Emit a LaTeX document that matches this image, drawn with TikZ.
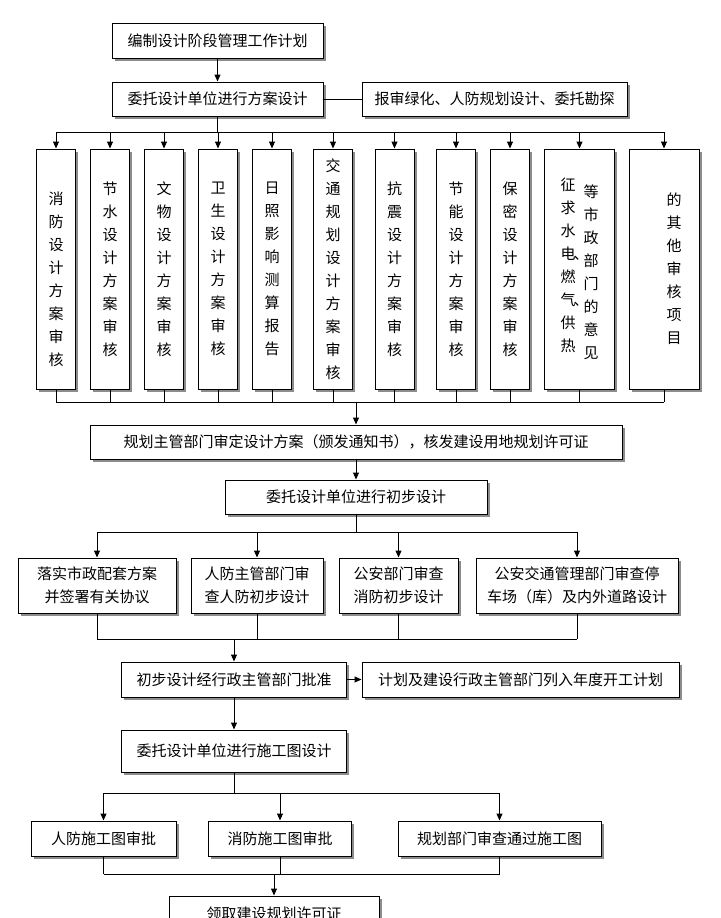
\documentclass[tikz,border=0pt]{standalone}
\usepackage{fontspec}
\newfontfamily\zhfont{Noto Sans CJK SC}
\usetikzlibrary{arrows.meta,shadows}

\begin{document}
\begin{tikzpicture}[
  x=1pt, y=-1pt,
  every node/.style={font=\zhfont\fontsize{15}{23}\selectfont, align=center, inner sep=0pt},
  box/.style={draw, line width=1pt, fill=white,
    drop shadow={shadow xshift=2.5pt, shadow yshift=-2.5pt, fill=black!45, opacity=1}},
  vbox/.style={box, minimum width=39pt, minimum height=240pt},
  wbox/.style={box, minimum width=70pt, minimum height=240pt},
  arrow/.style={-{Triangle[length=7pt, width=6pt]}, line width=1pt},
  link/.style={line width=1pt}
]
\useasboundingbox (0,0) rectangle (720,918);
\fill[white] (0,0) rectangle (720,918);
\clip (0,0) rectangle (720,918);

% scheme design
\node[box, minimum width=211pt, minimum height=35pt] (A) at (217.5,40.5) {编制设计阶段管理工作计划};
\node[box, minimum width=211pt, minimum height=34pt] (B) at (217.5,99) {委托设计单位进行方案设计};
\node[box, minimum width=265pt, minimum height=34pt] (C) at (494.5,99) {报审绿化、人防规划设计、委托勘探};

% review items
\node[vbox] (v1) at (56,269) {\raisebox{-10pt}[\height][\depth]{\parbox[c]{15pt}{\centering 消\\防\\设\\计\\方\\案\\审\\核}}};
\node[vbox] (v2) at (110,269) {节\\水\\设\\计\\方\\案\\审\\核};
\node[vbox] (v3) at (164,269) {文\\物\\设\\计\\方\\案\\审\\核};
\node[vbox] (v4) at (218,269) {卫\\生\\设\\计\\方\\案\\审\\核};
\node[vbox] (v5) at (272,269) {日\\照\\影\\响\\测\\算\\报\\告};
\node[vbox] (v6) at (333,269) {交\\通\\规\\划\\设\\计\\方\\案\\审\\核};
\node[vbox] (v7) at (394.5,269) {抗\\震\\设\\计\\方\\案\\审\\核};
\node[vbox] (v8) at (456,269) {节\\能\\设\\计\\方\\案\\审\\核};
\node[vbox] (v9) at (510,269) {保\\密\\设\\计\\方\\案\\审\\核};
\node[wbox] (v10) at (579.5,269) {\parbox[c]{15pt}{\centering 征\\求\\水\\电\rlap{\kern-2pt、}\\燃\\气\rlap{\kern-2pt、}\\供\\热}\hspace{8pt}%
  \raisebox{-7pt}{\parbox[c]{15pt}{\centering 等\\市\\政\\部\\门\\的\\意\\见}}};
\node[wbox] (v11) at (664,269) {\hspace*{20pt}\parbox[c]{15pt}{\centering 的\\其\\他\\审\\核\\项\\目}};

\coordinate (busA) at (0,132);
\coordinate (busB) at (0,402);

% preliminary design
\node[box, minimum width=532pt, minimum height=34pt] (D) at (356,442) {规划主管部门审定设计方案（颁发通知书），核发建设用地规划许可证};
\node[box, minimum width=262pt, minimum height=34pt] (E) at (356,497) {委托设计单位进行初步设计};
\node[box, minimum width=158pt, minimum height=55pt] (F1) at (97,585.5) {落实市政配套方案\\并签署有关协议};
\node[box, minimum width=132pt, minimum height=55pt] (F2) at (257,585.5) {人防主管部门审\\查人防初步设计};
\node[box, minimum width=119pt, minimum height=55pt] (F3) at (398.5,585.5) {公安部门审查\\消防初步设计};
\node[box, minimum width=202pt, minimum height=55pt] (F4) at (577,585.5) {公安交通管理部门审查停\\车场（库）及内外道路设计};

\coordinate (busE) at (0,532);
\coordinate (busF) at (0,639);

% construction drawings
\node[box, minimum width=225pt, minimum height=35pt] (G) at (234,679.5) {初步设计经行政主管部门批准};
\node[box, minimum width=317pt, minimum height=35pt] (H) at (520.5,679.5) {计划及建设行政主管部门列入年度开工计划};
\node[box, minimum width=225pt, minimum height=42pt] (I) at (234,751) {委托设计单位进行施工图设计};
\node[box, minimum width=145pt, minimum height=35pt] (J1) at (103.5,838.5) {人防施工图审批};
\node[box, minimum width=143pt, minimum height=35pt] (J2) at (280,838.5) {消防施工图审批};
\node[box, minimum width=203pt, minimum height=35pt] (J3) at (499.5,838.5) {规划部门审查通过施工图};
\node[box, minimum width=210pt, minimum height=35pt] (K) at (274,913.5) {领取建设规划许可证};

\coordinate (busI) at (0,793);
\coordinate (busJ) at (0,874);

\draw[arrow] (A) -- (B);
\draw[link] (B) -- (C);
\draw[link] (B.south) -- (B.south |- busA);
\draw[link] (busA -| v1) -- (busA -| v11);
\draw[link] (busB -| v1) -- (busB -| v11);
\foreach \i in {1,...,11} {
  \draw[arrow] (busA -| v\i) -- (v\i.north);
  \draw[link] (v\i.south) -- (v\i.south |- busB);
}
\draw[arrow] (busB -| D) -- (D);
\draw[arrow] (D) -- (E);

\draw[link] (E.south) -- (E.south |- busE);
\draw[link] (busE -| F1) -- (busE -| F4);
\draw[link] (busF -| F1) -- (busF -| F4);
\foreach \i in {1,...,4} {
  \draw[arrow] (busE -| F\i) -- (F\i.north);
  \draw[link] (F\i.south) -- (F\i.south |- busF);
}
\draw[arrow] (busF -| G) -- (G);
\draw[arrow] (G) -- (H);
\draw[arrow] (G) -- (I);

\draw[link] (I.south) -- (I.south |- busI);
\draw[link] (busI -| J1) -- (busI -| J3);
\draw[link] (busJ -| J1) -- (busJ -| J3);
\foreach \i in {1,...,3} {
  \draw[arrow] (busI -| J\i) -- (J\i.north);
  \draw[link] (J\i.south) -- (J\i.south |- busJ);
}
\draw[arrow] (busJ -| K) -- (K);
\end{tikzpicture}
\end{document}
